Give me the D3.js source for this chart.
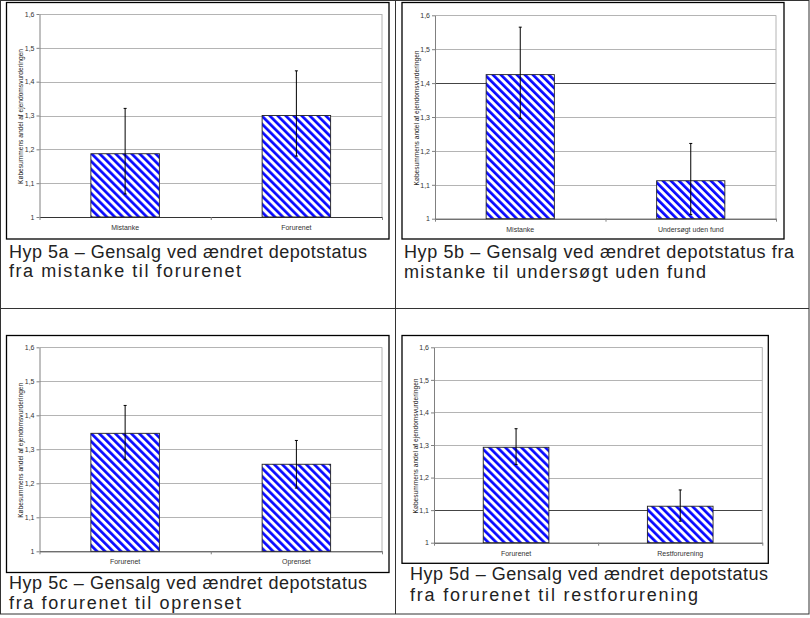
<!DOCTYPE html>
<html>
<head>
<meta charset="utf-8">
<script src="https://cdnjs.cloudflare.com/ajax/libs/d3/7.8.5/d3.min.js"></script>
<style>
  body { margin: 0; background: #fff; }
  svg { display: block; }
</style>
</head>
<body>
<div id="chart"></div>
<script>
// values (5a, 5b, 5c, 5d)
const categories = [
  ["Mistanke", "Forurenet"],
  ["Mistanke", "Undersøgt uden fund"],
  ["Forurenet", "Oprenset"],
  ["Forurenet", "Restforurening"]
];
const means   = [[1.187, 1.300], [1.425, 1.112], [1.347, 1.256], [1.293, 1.112]];
const errHigh = [[1.321, 1.432], [1.565, 1.222], [1.429, 1.326], [1.350, 1.162]];
const errLow  = [[1.068, 1.180], [1.296, 1.012], [1.269, 1.186], [1.240, 1.066]];
const yTicks = [1, 1.1, 1.2, 1.3, 1.4, 1.5, 1.6];
const yTitle = "Købesummens andel af ejendomsvurderingen";
const captions = [
  ["Hyp 5a – Gensalg ved ændret depotstatus", "fra mistanke til forurenet"],
  ["Hyp 5b – Gensalg ved ændret depotstatus fra", "mistanke til undersøgt uden fund"],
  ["Hyp 5c – Gensalg ved ændret depotstatus", "fra forurenet til oprenset"],
  ["Hyp 5d – Gensalg ved ændret depotstatus", "fra forurenet til restforurening"]
];

// page layout of each panel: frame box, plot box, caption position
const panels = [
  {frame: [6.5, 2.5, 389, 239],     plot: [39.5, 14, 382, 217],       cap: [9, 258, 277],     capW: [358, 232], dark: null},
  {frame: [402, 2.5, 784, 239],     plot: [435, 15.3, 776, 218.7],    cap: [404, 257.7, 277.7], capW: [390, 302], dark: 1.4},
  {frame: [6.5, 335.5, 389, 572.5], plot: [39.5, 347.3, 382, 551.3],  cap: [9, 589, 609],     capW: [358, 232], dark: null},
  {frame: [402, 335.5, 768.3, 563.3], plot: [434, 347.3, 762.3, 542.7], cap: [410, 579.7, 600.7], capW: [358, 288], dark: 1.1}
];

const svg = d3.select("#chart")
  .append("svg")
    .attr("width", 810)
    .attr("height", 618);

// diagonal blue hatch like the excel fill
const hatch = svg.append("defs")
  .append("pattern")
    .attr("id", "hatch")
    .attr("patternUnits", "userSpaceOnUse")
    .attr("width", 5.66)
    .attr("height", 5.66)
    .attr("patternTransform", "rotate(-45)");
hatch.append("rect").attr("width", 5.66).attr("height", 5.66).attr("fill", "#fff");
hatch.append("rect").attr("width", 2.7).attr("height", 5.66).attr("fill", "#0a0aff");

// danish decimal comma
const fmt = d3.formatLocale({decimal: ",", thousands: ".", grouping: [3], currency: ["", " kr"]}).format("~g");

// table lines around the four cells
svg.append("rect")
    .attr("x", 0.5).attr("y", 0.5)
    .attr("width", 808.5).attr("height", 613.5)
    .attr("fill", "none").attr("stroke", "#333");
svg.append("line").attr("x1", 395.5).attr("x2", 395.5).attr("y1", 0).attr("y2", 614)
    .attr("stroke", "#333");
svg.append("line").attr("x1", 0).attr("x2", 809).attr("y1", 308.5).attr("y2", 308.5)
    .attr("stroke", "#333");

panels.forEach(function(p, i) {
  const [fx0, fy0, fx1, fy1] = p.frame;
  const [px0, py0, px1, py1] = p.plot;
  const cats = categories[i];
  const rows = cats.map(function(c, j) {
    return {cat: c, mean: means[i][j], lo: errLow[i][j], hi: errHigh[i][j]};
  });

  // chart frame
  svg.append("rect")
      .attr("x", fx0).attr("y", fy0)
      .attr("width", fx1 - fx0).attr("height", fy1 - fy0)
      .attr("fill", "#fff").attr("stroke", "#000").attr("stroke-width", 1.3);

  const g = svg.append("g");

  const y = d3.scaleLinear().domain([1, 1.6]).range([py1, py0]);
  const xBand = d3.scaleBand().domain(cats).range([px0, px1]);
  const xBar = d3.scaleBand().domain(cats).range([px0, px1]).paddingInner(0.6).paddingOuter(0.3);
  const xEdge = d3.scaleLinear().domain([0, cats.length]).range([px0, px1]);

  // gridlines
  g.selectAll(".grid")
    .data(yTicks.filter(function(t) { return t > 1; }))
    .enter()
    .append("line")
      .attr("x1", px0).attr("x2", px1)
      .attr("y1", function(d) { return Math.round(y(d)) + 0.5; })
      .attr("y2", function(d) { return Math.round(y(d)) + 0.5; })
      .attr("stroke", function(d) { return p.dark !== null && Math.abs(d - p.dark) < 1e-6 ? "#444" : "#b4b4b4"; });

  // right border of plot area
  g.append("line")
      .attr("x1", px1).attr("x2", px1).attr("y1", py0).attr("y2", py1)
      .attr("stroke", "#b4b4b4");

  // y axis
  const yAxis = g.append("g")
      .attr("transform", "translate(" + px0 + ",0)")
      .call(d3.axisLeft(y).tickValues(yTicks).tickSize(3).tickSizeOuter(0).tickPadding(2).tickFormat(fmt));
  yAxis.select(".domain").attr("stroke", "#808080");
  yAxis.selectAll(".tick line").attr("stroke", "#808080");
  yAxis.selectAll(".tick text")
      .attr("fill", "#333")
      .style("font-family", "'Liberation Sans', Arial, sans-serif")
      .style("font-size", "7px");

  // x axis with ticks between categories
  g.append("g")
      .attr("transform", "translate(0," + py1 + ")")
      .call(d3.axisBottom(xEdge).tickValues(d3.range(cats.length + 1)).tickSize(3).tickSizeOuter(0).tickFormat(""))
      .call(function(a) {
        a.select(".domain").attr("stroke", "#333");
        a.selectAll(".tick line").attr("stroke", "#808080");
      });

  const xAxis = g.append("g")
      .attr("transform", "translate(0," + py1 + ")")
      .call(d3.axisBottom(xBand).tickSize(0).tickPadding(8));
  xAxis.select(".domain").remove();
  xAxis.selectAll(".tick text")
      .attr("fill", "#333")
      .style("font-family", "'Liberation Sans', Arial, sans-serif")
      .style("font-size", "7px");

  // bars
  g.selectAll(".bar")
    .data(rows)
    .enter()
    .append("rect")
      .attr("x", function(d) { return xBar(d.cat); })
      .attr("y", function(d) { return y(d.mean); })
      .attr("width", xBar.bandwidth())
      .attr("height", function(d) { return y(1) - y(d.mean); })
      .attr("fill", "url(#hatch)")
      .attr("stroke", "#222")
      .attr("stroke-width", 0.9);

  // error bars
  const eb = g.selectAll(".err")
    .data(rows)
    .enter()
    .append("g")
      .attr("stroke", "#000")
      .attr("stroke-width", 1);
  eb.append("line")
      .attr("x1", function(d) { return xBar(d.cat) + xBar.bandwidth() / 2; })
      .attr("x2", function(d) { return xBar(d.cat) + xBar.bandwidth() / 2; })
      .attr("y1", function(d) { return y(d.lo); })
      .attr("y2", function(d) { return y(d.hi); });
  ["lo", "hi"].forEach(function(k) {
    eb.append("line")
        .attr("x1", function(d) { return xBar(d.cat) + xBar.bandwidth() / 2 - 1.5; })
        .attr("x2", function(d) { return xBar(d.cat) + xBar.bandwidth() / 2 + 1.5; })
        .attr("y1", function(d) { return y(d[k]); })
        .attr("y2", function(d) { return y(d[k]); });
  });

  // y axis title
  g.append("text")
      .attr("transform", "translate(" + (px0 - 18.5) + "," + ((py0 + py1) / 2 + 1) + ")rotate(-90)")
      .attr("text-anchor", "middle")
      .attr("dy", "0.35em")
      .attr("textLength", 135)
      .attr("lengthAdjust", "spacingAndGlyphs")
      .attr("fill", "#222")
      .style("font-family", "'Liberation Sans', Arial, sans-serif")
      .style("font-size", "7px")
      .text(yTitle);

  // caption under the chart
  captions[i].forEach(function(line, j) {
    svg.append("text")
        .attr("x", p.cap[0])
        .attr("y", p.cap[j + 1])
        .attr("textLength", p.capW[j])
        .attr("lengthAdjust", "spacing")
        .attr("fill", "#222")
        .style("font-family", "'Liberation Sans', Arial, sans-serif")
        .style("font-size", "18px")
        .text(line);
  });
});
</script>
</body>
</html>
